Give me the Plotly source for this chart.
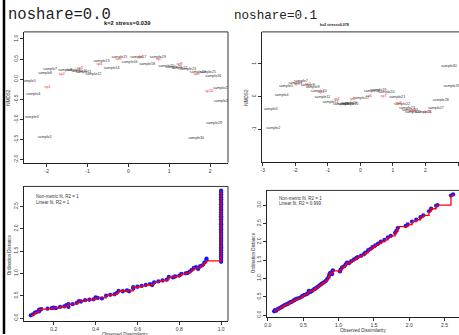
import plotly.graph_objects as go

W, H = 459, 335

# ---------------- data ----------------
# Panel 1: noshare=0.0 ordination (NMDS1, NMDS2)
site_names = ["sample%d" % i for i in range(2, 31)]
sites1_x = [-2.05, -2.37, -2.33, -2.44, -2.04, -1.92, -1.55, -1.35, -1.20, -1.10, -0.86, -0.66,
            -0.41, -0.22, 0.03, 0.24, 0.46, 0.72, 0.93, 1.12, 1.25, 1.46, 1.70, 1.95, 2.08, 2.27,
            2.29, 2.10, 1.66]
sites1_y = [-1.44, -0.95, -0.37, -0.05, 0.16, 0.26, 0.24, 0.23, 0.20, 0.18, 0.14, 0.44, 0.29,
            0.56, 0.42, 0.56, 0.38, 0.54, 0.33, 0.30, 0.27, 0.26, 0.19, 0.17, 0.07, -0.23, -0.55,
            -1.08, -1.47]
sp_names = ["sp%d" % i for i in range(1, 11)]
sp1_x = [-1.98, -1.63, -1.19, -0.71, -0.24, 0.30, 0.75, 1.25, 1.67, 1.98]
sp1_y = [-0.20, 0.14, 0.29, 0.38, 0.51, 0.56, 0.51, 0.38, 0.14, -0.30]

# Panel 2: noshare=0.1 ordination
sites2_x = [-2.68, -2.76, -2.42, -2.29, -2.00, -1.83, -1.62, -1.47, -1.28, -1.17, -0.92, -0.60,
            -0.45, -0.30, -0.35, 0.02, 0.35, 0.55, 0.80, 1.13, 1.28, 1.43, 1.52, 1.62, 1.94, 2.32,
            2.47, 2.80, 2.72]
sites2_y = [-0.97, -0.38, 0.04, 0.32, 0.42, 0.48, 0.36, 0.30, 0.17, 0.00, -0.15, -0.22, -0.22,
            -0.22, -0.20, -0.03, 0.17, 0.19, 0.13, 0.00, -0.22, -0.35, -0.42, -0.48, -0.46, -0.35,
            -0.09, 0.32, 0.95]
sp2_x = [-1.95, -1.62, -1.20, -0.73, -0.24, 0.26, 0.71, 1.17, 1.62, 2.05]
sp2_y = [0.40, 0.40, 0.15, -0.06, -0.06, 0.01, 0.01, -0.18, -0.43, -0.46]

# Panel 3: Shepard diagram noshare=0.0
obs3 = [0.09, 0.10, 0.11, 0.12, 0.13, 0.13, 0.14, 0.17, 0.19, 0.20, 0.21, 0.23, 0.25, 0.26, 0.27,
        0.27, 0.29, 0.31, 0.32, 0.33, 0.35, 0.37, 0.39, 0.40, 0.41, 0.43, 0.45, 0.47, 0.49, 0.50,
        0.51, 0.53, 0.55, 0.56, 0.58, 0.58, 0.60, 0.62, 0.64, 0.66, 0.67, 0.68, 0.70, 0.72, 0.74,
        0.75, 0.77, 0.78, 0.80, 0.81, 0.83, 0.84, 0.85, 0.86, 0.87, 0.88, 0.89, 0.90, 0.91, 0.92,
        0.93, 0.93,
        1.0, 1.0, 1.0, 1.0, 1.0, 1.0, 1.0, 1.0, 1.0, 1.0, 1.0, 1.0, 1.0, 1.0, 1.0, 1.0, 1.0, 1.0,
        1.0, 1.0, 1.0, 1.0, 1.0, 1.0, 1.0, 1.0, 1.0, 1.0, 1.0, 1.0, 1.0, 1.0, 1.0, 1.0, 1.0, 1.0,
        1.0, 1.0, 1.0, 1.0, 1.0, 1.0, 1.0]
ord3 = [0.06, 0.08, 0.12, 0.14, 0.15, 0.19, 0.20, 0.21, 0.22, 0.23, 0.22, 0.25, 0.26, 0.29, 0.25,
        0.31, 0.31, 0.34, 0.38, 0.37, 0.40, 0.41, 0.42, 0.46, 0.45, 0.44, 0.50, 0.52, 0.53, 0.56,
        0.61, 0.60, 0.62, 0.60, 0.66, 0.69, 0.70, 0.72, 0.74, 0.76, 0.74, 0.80, 0.82, 0.84, 0.86,
        0.92, 0.91, 0.93, 0.95, 0.99, 1.00, 1.01, 1.04, 1.08, 1.12, 1.14, 1.10, 1.16, 1.18, 1.24,
        1.30, 1.33,
        1.26, 1.30, 1.35, 1.39, 1.42, 1.47, 1.51, 1.55, 1.58, 1.62, 1.66, 1.70, 1.73, 1.77, 1.80,
        1.84, 1.88, 1.91, 1.95, 1.99, 2.02, 2.06, 2.10, 2.13, 2.17, 2.21, 2.25, 2.28, 2.32, 2.36,
        2.40, 2.43, 2.47, 2.51, 2.55, 2.58, 2.62, 2.66, 2.70, 2.73, 2.77, 2.81, 2.85]
fit3 = [0.06, 0.08, 0.12, 0.14, 0.15, 0.19, 0.20, 0.21, 0.22, 0.225, 0.225, 0.25, 0.26, 0.27, 0.27,
        0.31, 0.31, 0.34, 0.375, 0.375, 0.40, 0.41, 0.42, 0.45, 0.45, 0.45, 0.50, 0.52, 0.53, 0.56,
        0.60, 0.60, 0.61, 0.61, 0.66, 0.69, 0.70, 0.72, 0.74, 0.75, 0.75, 0.80, 0.82, 0.84, 0.86,
        0.915, 0.915, 0.93, 0.95, 0.99, 1.00, 1.01, 1.04, 1.08, 1.12, 1.12, 1.12, 1.16, 1.18, 1.24,
        1.28, 1.28,
        1.28, 1.30, 1.35, 1.39, 1.42, 1.47, 1.51, 1.55, 1.58, 1.62, 1.66, 1.70, 1.73, 1.77, 1.80,
        1.84, 1.88, 1.91, 1.95, 1.99, 2.02, 2.06, 2.10, 2.13, 2.17, 2.21, 2.25, 2.28, 2.32, 2.36,
        2.40, 2.43, 2.47, 2.51, 2.55, 2.58, 2.62, 2.66, 2.70, 2.73, 2.77, 2.81, 2.85]

# Panel 4: Shepard diagram noshare=0.1
obs4 = [0.09, 0.10, 0.12, 0.14, 0.16, 0.18, 0.20, 0.22, 0.24, 0.26, 0.28, 0.30, 0.32, 0.34, 0.36,
        0.38, 0.40, 0.42, 0.45, 0.48, 0.50, 0.52, 0.55, 0.57, 0.58, 0.60, 0.62, 0.64, 0.66, 0.68,
        0.70, 0.72, 0.74, 0.76, 0.78, 0.80, 0.82, 0.84, 0.86, 0.87, 0.88, 0.90, 0.91, 0.92, 1.02,
        1.03, 1.05, 1.08, 1.10, 1.12, 1.15, 1.18, 1.22, 1.25, 1.27, 1.32, 1.36, 1.38, 1.42, 1.45,
        1.48, 1.52, 1.56, 1.60, 1.65, 1.70, 1.74, 1.80, 1.82, 1.84, 1.95, 1.98, 2.04, 2.10, 2.16,
        2.20, 2.28, 2.31, 2.38, 2.40, 2.59, 2.62]
ord4 = [0.10, 0.13, 0.12, 0.16, 0.18, 0.20, 0.22, 0.25, 0.27, 0.29, 0.30, 0.33, 0.35, 0.36, 0.39,
        0.41, 0.44, 0.45, 0.47, 0.50, 0.53, 0.55, 0.57, 0.60, 0.66, 0.63, 0.65, 0.68, 0.71, 0.73,
        0.76, 0.79, 0.82, 0.85, 0.88, 0.90, 0.93, 0.98, 1.04, 1.10, 1.14, 1.16, 1.12, 1.22, 1.19,
        1.24, 1.30, 1.33, 1.38, 1.43, 1.42, 1.47, 1.52, 1.55, 1.58, 1.62, 1.66, 1.70, 1.77, 1.80,
        1.85, 1.90, 1.95, 2.00, 2.05, 2.12, 2.16, 2.24, 2.30, 2.38, 2.43, 2.47, 2.55, 2.60, 2.67,
        2.72, 2.83, 2.90, 2.98, 3.00, 3.26, 3.29]
fit4 = [0.10, 0.125, 0.125, 0.16, 0.18, 0.20, 0.22, 0.25, 0.27, 0.29, 0.30, 0.33, 0.35, 0.36, 0.39,
        0.41, 0.44, 0.45, 0.47, 0.50, 0.53, 0.55, 0.57, 0.60, 0.645, 0.645, 0.65, 0.68, 0.71, 0.73,
        0.76, 0.79, 0.82, 0.85, 0.88, 0.90, 0.93, 0.98, 1.04, 1.10, 1.14, 1.14, 1.14, 1.205, 1.205,
        1.24, 1.30, 1.33, 1.38, 1.425, 1.425, 1.47, 1.52, 1.55, 1.58, 1.62, 1.66, 1.70, 1.77, 1.80,
        1.85, 1.90, 1.95, 2.00, 2.05, 2.12, 2.16, 2.24, 2.30, 2.41, 2.41, 2.47, 2.55, 2.60, 2.67,
        2.72, 2.83, 2.90, 2.98, 3.00, 3.26, 3.29]

titles = ["noshare=0.0", "noshare=0.1"]
stress_labels = ["k=2 stress=0.039", "k=2 stress=0.078"]
fit_labels3 = ["Non-metric fit, R2 = 1", "Linear fit, R2 = 1"]
fit_labels4 = ["Non-metric fit, R2 = 1", "Linear fit, R2 = 0.999"]

# ---------------- figure ----------------
def px(x):
    return x / W

def py(y):
    return 1 - y / H

SANS = "Liberation Sans, Arial, sans-serif"
MONO = "Liberation Mono, Courier New, monospace"
TXT = "#333333"

fig = go.Figure()

fig.add_trace(go.Scatter(x=sites1_x, y=sites1_y, mode="text", text=site_names,
                         textfont=dict(family=SANS, size=3.7, color=TXT), xaxis="x", yaxis="y"))
fig.add_trace(go.Scatter(x=sp1_x, y=sp1_y, mode="text", text=sp_names,
                         textfont=dict(family=SANS, size=3.7, color="#ee2222"), xaxis="x", yaxis="y"))
fig.add_trace(go.Scatter(x=sites2_x, y=sites2_y, mode="text", text=site_names,
                         textfont=dict(family=SANS, size=3.7, color=TXT), xaxis="x2", yaxis="y2"))
fig.add_trace(go.Scatter(x=sp2_x, y=sp2_y, mode="text", text=sp_names,
                         textfont=dict(family=SANS, size=3.7, color="#ee2222"), xaxis="x2", yaxis="y2"))
fig.add_trace(go.Scatter(x=obs3, y=ord3, mode="markers",
                         marker=dict(size=4.3, color="#1515ff", line=dict(width=0)),
                         xaxis="x3", yaxis="y3"))
fig.add_trace(go.Scatter(x=obs3, y=fit3, mode="lines", line=dict(color="#ff0000", width=1.3, shape="hv"),
                         xaxis="x3", yaxis="y3"))
fig.add_trace(go.Scatter(x=obs4, y=ord4, mode="markers",
                         marker=dict(size=4.3, color="#1515ff", line=dict(width=0)),
                         xaxis="x4", yaxis="y4"))
fig.add_trace(go.Scatter(x=obs4, y=fit4, mode="lines", line=dict(color="#ff0000", width=1.3, shape="hv"),
                         xaxis="x4", yaxis="y4"))

def axis(domain, rng, tickvals, ticktext, anchor, is_y):
    d = dict(domain=domain, range=rng, tickvals=tickvals, ticktext=ticktext, anchor=anchor,
             showgrid=False, zeroline=False, showline=True, linecolor="#222222", linewidth=1.4,
             ticks="outside", ticklen=3, tickwidth=0.8, tickcolor="#333333",
             tickfont=dict(family=SANS, size=5, color=TXT), fixedrange=True)
    if is_y:
        d["tickangle"] = -90
    return d

xd1 = [px(22), px(227)]
xd2 = [px(261), 1.0]
xd4 = [px(266), 1.0]
yd1 = [py(163), py(32)]
yd2 = [py(162), py(32)]
yd3 = [py(322), py(187)]
yd4 = [py(318), py(191)]

fmt1 = lambda v: "%.1f" % v

t1x = [-2, -1, 0, 1, 2]
t1y = [-2.0, -1.5, -1.0, -0.5, 0.0, 0.5, 1.0]
t2x = [-3, -2, -1, 0, 1, 2, 3]
t2y = [-1, 0, 1]
t3x = [0.2, 0.4, 0.6, 0.8, 1.0]
t3y = [0.0, 0.5, 1.0, 1.5, 2.0, 2.5]
t4x = [0.0, 0.5, 1.0, 1.5, 2.0, 2.5]
t4y = [0.0, 0.5, 1.0, 1.5, 2.0, 2.5, 3.0]

fig.update_layout(
    width=W, height=H, margin=dict(l=0, r=0, t=0, b=0),
    paper_bgcolor="white", plot_bgcolor="white", showlegend=False,
    xaxis=axis(xd1, [-2.56, 2.44], t1x, [str(v) for v in t1x], "y", False),
    yaxis=axis(yd1, [-2.067, 1.176], t1y, [fmt1(v) for v in t1y], "x", True),
    xaxis2=axis(xd2, [-3.03, 3.03], t2x, [str(v) for v in t2x], "y2", False),
    yaxis2=axis(yd2, [-1.98, 1.98], t2y, [str(v) for v in t2y], "x2", True),
    xaxis3=axis(xd1, [0.057, 1.033], t3x, [fmt1(v) for v in t3x], "y3", False),
    yaxis3=axis(yd3, [-0.067, 2.946], t3y, [fmt1(v) for v in t3y], "x3", True),
    xaxis4=axis(xd4, [-0.014, 2.704], t4x, [fmt1(v) for v in t4x], "y4", False),
    yaxis4=axis(yd4, [-0.055, 3.40], t4y, [fmt1(v) for v in t4y], "x4", True),
)

shapes = []
def top_right(xd, yd, right=True):
    shapes.append(dict(type="line", xref="paper", yref="paper", x0=xd[0], x1=xd[1], y0=yd[1], y1=yd[1],
                       line=dict(color="#333333", width=1)))
    if right:
        shapes.append(dict(type="line", xref="paper", yref="paper", x0=xd[1], x1=xd[1], y0=yd[0], y1=yd[1],
                           line=dict(color="#333333", width=1)))

top_right(xd1, yd1)
top_right(xd2, yd2, right=False)
top_right(xd1, yd3)
top_right(xd4, yd4, right=False)
shapes.append(dict(type="line", xref="paper", yref="paper", x0=px(2), x1=px(2), y0=0, y1=1,
                   line=dict(color="black", width=2.5)))
fig.update_layout(shapes=shapes)

ann = []
def text(x, y, s, size, family=SANS, color=TXT, xanchor="left", angle=0, bold=False):
    ann.append(dict(x=px(x), y=py(y), xref="paper", yref="paper", text=("<b>%s</b>" % s) if bold else s,
                    showarrow=False, xanchor=xanchor, yanchor="middle", textangle=angle,
                    font=dict(family=family, size=size, color=color)))

text(4, 15, titles[0], 15.6, family=MONO, color="#222222")
text(231, 16, titles[1], 12.6, family=MONO, color="#222222")
text(100, 23, stress_labels[0], 5.8, bold=True, color="#111111")
text(317, 25, stress_labels[1], 3.6, bold=True, color="#111111")
text(7, 97, "NMDS2", 4.6, xanchor="center", angle=-90)
text(246, 97, "NMDS2", 4.6, xanchor="center", angle=-90)
text(7, 255, "Ordination Distance", 4.6, xanchor="center", angle=-90)
text(252, 253, "Ordination Distance", 4.6, xanchor="center", angle=-90)
text(124, 336, "Observed Dissimilarity", 4.6, xanchor="center")
text(363, 331, "Observed Dissimilarity", 4.6, xanchor="center")
text(32, 197.5, fit_labels3[0], 4.5)
text(32, 203, fit_labels3[1], 4.5)
text(276, 199, fit_labels4[0], 4.5)
text(276, 204, fit_labels4[1], 4.5)
fig.update_layout(annotations=ann)

fig.write_html("out.html")
